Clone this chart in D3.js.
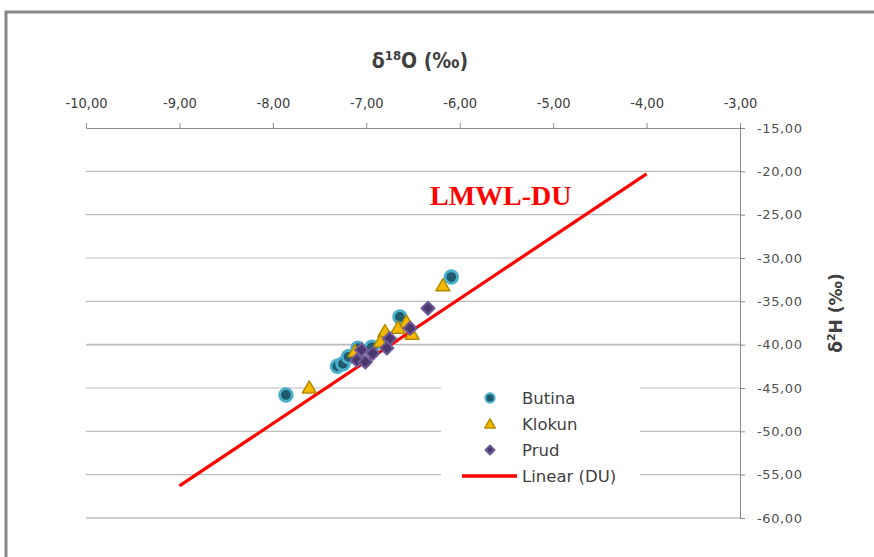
<!DOCTYPE html>
<html>
<head>
<meta charset="utf-8">
<script src="https://cdn.jsdelivr.net/npm/d3@7"></script>
<style>
  html, body { margin: 0; padding: 0; background: #ffffff; }
  svg { display: block; }
  .xt text { font-family: 'Liberation Sans Narrow', 'DejaVu Sans Condensed', sans-serif; font-size: 14.5px; fill: #404040; }
  .yt text { font-family: 'DejaVu Sans', sans-serif; font-size: 13px; fill: #505050; letter-spacing: 0.6px; }
  .leg text { font-family: 'DejaVu Sans', sans-serif; font-size: 16.5px; fill: #404040; }
</style>
</head>
<body>
<script>
// Stable isotope samples: δ18O (x) vs δ2H (y), per sampling site
const butinaO = [-7.86, -6.09, -6.64, -7.31, -7.25, -7.19, -7.09, -6.94];
const butinaH = [-45.8, -32.2, -36.8, -42.5, -42.2, -41.4, -40.4, -40.3];

const klokunO = [-7.61, -6.18, -6.57, -6.66, -6.80, -6.51, -6.85, -7.12];
const klokunH = [-45.0, -33.2, -37.4, -38.1, -38.5, -38.8, -39.7, -40.8];

const prudO = [-6.34, -6.53, -6.75, -6.78, -6.93, -7.05, -7.10, -7.01];
const prudH = [-35.8, -38.1, -39.3, -40.4, -41.0, -40.6, -41.8, -42.0];

// Local meteoric water line, drawn between its two end points
const lineO = [-9.0, -4.0];
const lineH = [-56.3, -20.3];

const xTicks = [-10, -9, -8, -7, -6, -5, -4, -3];
const yTicks = [-15, -20, -25, -30, -35, -40, -45, -50, -55, -60];

const seriesNames = ["Butina", "Klokun", "Prud", "Linear (DU)"];

const W = 874, H = 557;

// Decimal comma, plain hyphen for negatives
const loc = d3.formatLocale({ decimal: ",", thousands: ".", grouping: [3], currency: ["", ""], minus: "-" });
const fmt = loc.format(".2f");

const svg = d3.select("body").append("svg").attr("width", W).attr("height", H);

const x = d3.scaleLinear().domain([-10, -3]).range([86, 740]);
const y = d3.scaleLinear().domain([-60, -15]).range([518, 128]);

// Outer frame
svg.append("path")
  .attr("d", `M6,${H + 5}V12H${W + 5}`)
  .attr("fill", "none").attr("stroke", "#858585").attr("stroke-width", 3);

// Horizontal gridlines
svg.append("g").selectAll("line")
  .data(yTicks.filter(v => v !== -15))
  .join("line")
  .attr("x1", x(-10)).attr("x2", x(-3))
  .attr("y1", d => y(d)).attr("y2", d => y(d))
  .attr("stroke", "#bdbdbd").attr("stroke-width", d => (d === -40 || d === -60) ? 1.6 : 1.1);

// Top x axis
const gx = svg.append("g").attr("class", "xt")
  .attr("transform", `translate(0,${y(-15)})`)
  .call(d3.axisTop(x).tickValues(xTicks).tickFormat(fmt).tickSize(5).tickSizeOuter(0).tickPadding(15));
gx.select(".domain").attr("stroke", "#8a8a8a");
gx.selectAll(".tick line").attr("stroke", "#8a8a8a");

// Right y axis
const gy = svg.append("g").attr("class", "yt")
  .attr("transform", `translate(${x(-3)},0)`)
  .call(d3.axisRight(y).tickValues(yTicks).tickFormat(fmt).tickSize(5).tickSizeOuter(0).tickPadding(12));
gy.select(".domain").attr("stroke", "#8a8a8a");
gy.selectAll(".tick line").attr("stroke", "#8a8a8a");

// Axis titles
const xTitle = svg.append("text")
  .attr("x", 420).attr("y", 68)
  .attr("text-anchor", "middle")
  .attr("font-family", "'Liberation Sans Narrow', 'DejaVu Sans Condensed', sans-serif")
  .attr("font-weight", "bold").attr("font-size", 21).attr("fill", "#404040");
xTitle.append("tspan").text("δ");
xTitle.append("tspan").attr("font-size", 13).attr("dy", -8).text("18");
xTitle.append("tspan").attr("dy", 8).text("O (‰)");

const yTitle = svg.append("text")
  .attr("transform", `translate(842,313) rotate(-90)`)
  .attr("text-anchor", "middle")
  .attr("font-family", "'DejaVu Sans', sans-serif")
  .attr("font-weight", "bold").attr("font-size", 17).attr("fill", "#404040");
yTitle.append("tspan").text("δ");
yTitle.append("tspan").attr("font-size", 11).attr("dy", -7).text("2");
yTitle.append("tspan").attr("dy", 7).text("H (‰)");

// LMWL line
svg.append("path")
  .datum(d3.zip(lineO, lineH))
  .attr("d", d3.line().x(d => x(d[0])).y(d => y(d[1])))
  .attr("fill", "none").attr("stroke", "#ff0000").attr("stroke-width", 3.2);

svg.append("text")
  .attr("x", 430).attr("y", 205)
  .attr("font-family", "'Liberation Serif', 'DejaVu Serif', serif")
  .attr("font-weight", "bold").attr("font-size", 28).attr("fill", "#ff0000")
  .text("LMWL-DU");

// Marker styles
const triSym = d3.symbol().type(d3.symbolTriangle);
const diaSym = d3.symbol().type(d3.symbolSquare);

function drawCircle(g, cx, cy, r) {
  g.append("circle").attr("cx", cx).attr("cy", cy).attr("r", r)
    .attr("fill", "#1f5b6c").attr("stroke", "#4bb0cc").attr("stroke-width", r * 0.45);
}
function drawTri(g, cx, cy, size) {
  g.append("path").attr("d", triSym.size(size)())
    .attr("transform", `translate(${cx},${cy + 1})`)
    .attr("fill", "#f3b800").attr("stroke", "#b58a00").attr("stroke-width", 1.5)
    .attr("stroke-linejoin", "round");
}
function drawDia(g, cx, cy, size) {
  g.append("path").attr("d", diaSym.size(size)())
    .attr("transform", `translate(${cx},${cy}) rotate(45)`)
    .attr("fill", "#4a386c").attr("stroke", "#6f5b98").attr("stroke-width", 2)
    .attr("stroke-linejoin", "round");
}

const gPts = svg.append("g");
d3.zip(butinaO, butinaH).forEach(d => drawCircle(gPts, x(d[0]), y(d[1]), 6.3));
d3.zip(klokunO, klokunH).forEach(d => drawTri(gPts, x(d[0]), y(d[1]), 85));
d3.zip(prudO, prudH).forEach(d => drawDia(gPts, x(d[0]), y(d[1]), 85));

// Legend
const leg = svg.append("g").attr("class", "leg");
leg.append("rect").attr("x", 441).attr("y", 362).attr("width", 199).attr("height", 136).attr("fill", "#ffffff");
const rowY = [398, 424, 450, 476];
drawCircle(leg, 490, rowY[0], 4.6);
drawTri(leg, 490, rowY[1], 48);
drawDia(leg, 490, rowY[2], 40);
leg.append("line").attr("x1", 462).attr("x2", 517).attr("y1", rowY[3]).attr("y2", rowY[3])
  .attr("stroke", "#ff0000").attr("stroke-width", 3.5);
leg.selectAll("text.lbl").data(seriesNames).join("text")
  .attr("class", "lbl")
  .attr("x", 522).attr("y", (d, i) => rowY[i]).attr("dy", "0.36em")
  .text(d => d);
</script>
</body>
</html>
